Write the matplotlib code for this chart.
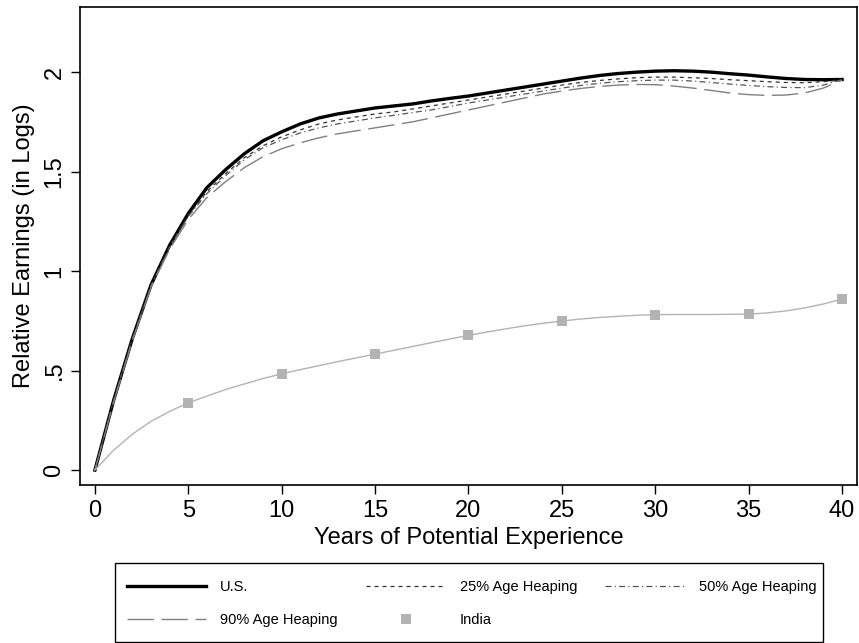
import matplotlib
matplotlib.use("Agg")
import matplotlib.pyplot as plt
from matplotlib.lines import Line2D
from matplotlib.patches import Rectangle

plt.rcParams['font.family'] = ['Liberation Sans', 'DejaVu Sans']

years = list(range(41))

us = [0, 0.35, 0.66, 0.93, 1.13, 1.29, 1.42, 1.51, 1.59, 1.655,
      1.70, 1.74, 1.77, 1.79, 1.805, 1.82, 1.83, 1.84, 1.855, 1.868,
      1.88, 1.895, 1.91, 1.925, 1.94, 1.955, 1.97, 1.983, 1.993, 2.0,
      2.005, 2.007, 2.005, 2.0, 1.992, 1.985, 1.976, 1.968, 1.963, 1.962,
      1.963]

heap25 = [0, 0.35, 0.66, 0.93, 1.125, 1.28, 1.40, 1.49, 1.57, 1.63,
          1.675, 1.71, 1.74, 1.76, 1.775, 1.79, 1.80, 1.815, 1.83, 1.845,
          1.86, 1.875, 1.89, 1.905, 1.92, 1.935, 1.948, 1.958, 1.966, 1.972,
          1.975, 1.975, 1.972, 1.968, 1.962, 1.957, 1.952, 1.948, 1.947, 1.952,
          1.963]

heap50 = [0, 0.35, 0.655, 0.925, 1.12, 1.275, 1.39, 1.48, 1.56, 1.62,
          1.66, 1.695, 1.72, 1.74, 1.755, 1.77, 1.783, 1.797, 1.81, 1.827,
          1.845, 1.86, 1.875, 1.89, 1.905, 1.92, 1.933, 1.944, 1.952, 1.957,
          1.96, 1.96, 1.955, 1.948, 1.94, 1.933, 1.927, 1.923, 1.922, 1.935,
          1.963]

heap90 = [0, 0.34, 0.65, 0.92, 1.11, 1.26, 1.37, 1.45, 1.52, 1.575,
          1.615, 1.645, 1.67, 1.69, 1.705, 1.72, 1.735, 1.75, 1.77, 1.79,
          1.81, 1.83, 1.85, 1.87, 1.89, 1.905, 1.918, 1.928, 1.935, 1.938,
          1.937, 1.93, 1.92, 1.908, 1.895, 1.887, 1.883, 1.885, 1.895, 1.92,
          1.96]

india = [0, 0.10, 0.18, 0.245, 0.295, 0.338, 0.372, 0.405, 0.433, 0.46,
         0.484, 0.505, 0.525, 0.545, 0.564, 0.583, 0.602, 0.621, 0.64, 0.659,
         0.677, 0.694, 0.71, 0.725, 0.738, 0.749, 0.759, 0.767, 0.773, 0.778,
         0.781, 0.782, 0.782, 0.782, 0.783, 0.784, 0.79, 0.80, 0.815, 0.835,
         0.859]

xticks = [0, 5, 10, 15, 20, 25, 30, 35, 40]
yticks = [0, 0.5, 1, 1.5, 2]
ytick_labels = ['0', '.5', '1', '1.5', '2']

fig = plt.figure(figsize=(8.59, 6.43), dpi=100)
ax = fig.add_axes([0.0931, 0.2457, 0.9046, 0.7433])

l_us, = ax.plot(years, us, color='black', lw=2.4)
l_25, = ax.plot(years, heap25, color='#333333', lw=0.9, ls=(0, (3.2, 3.2)))
l_50, = ax.plot(years, heap50, color='#555555', lw=0.9, ls=(0, (4.8, 2.6, 0.9, 2.6)))
l_90, = ax.plot(years, heap90, color='#808080', lw=1.0, ls=(0, (19, 5.5)))
ax.plot(years, india, color='#b3b3b3', lw=1.0, marker='s', markevery=slice(5, None, 5),
        markersize=7, markeredgewidth=0)

ax.set_xlim(-0.8, 40.8)
ax.set_ylim(-0.075, 2.327)
ax.set_xticks(xticks)
ax.set_yticks(yticks)
ax.set_yticklabels(ytick_labels, rotation=90, va='center')
ax.tick_params(labelsize=17, length=6.5, width=1.0, pad=4)
for s in ax.spines.values():
    s.set_linewidth(1.2)

ax.set_xlabel('Years of Potential Experience', fontsize=17, labelpad=4)
ax.set_ylabel('Relative Earnings (in Logs)', fontsize=17, labelpad=6)

# legend box drawn separately so the padding matches
fig.patches.append(Rectangle((0.1339, 0.0016), 0.8242, 0.1229, transform=fig.transFigure,
                             fill=False, edgecolor='black', lw=1.0))

h_in = Line2D([], [], color='#b3b3b3', marker='s', markersize=7, markeredgewidth=0, ls='none')

leg = fig.legend([l_us, l_90, l_25, h_in, l_50],
                 ['U.S.', '90% Age Heaping', '25% Age Heaping', 'India', '50% Age Heaping'],
                 loc='center', bbox_to_anchor=(0.549, 0.062),
                 ncol=3, fontsize=10.5, handlelength=5.45,
                 handletextpad=0.95, labelspacing=1.3, columnspacing=1.95,
                 borderpad=0.0, frameon=False)

fig.savefig('out.png', dpi=100)
